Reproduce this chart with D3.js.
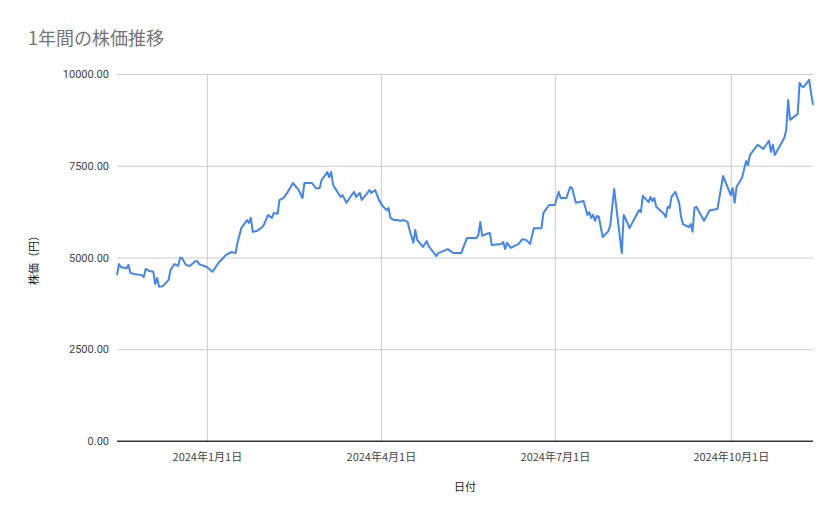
<!DOCTYPE html>
<html><head><meta charset="utf-8">
<script src="https://cdn.jsdelivr.net/npm/d3@7"></script>
<style>body{margin:0;background:#fff;font-family:"Noto Sans CJK JP","Noto Sans",sans-serif;}</style>
</head><body><svg id="chart"></svg>
<script>
const dates = ["2023-11-15","2023-11-16","2023-11-17","2023-11-20","2023-11-21","2023-11-22","2023-11-24","2023-11-28","2023-11-29","2023-11-30","2023-12-02","2023-12-04","2023-12-05","2023-12-06","2023-12-07","2023-12-09","2023-12-12","2023-12-13","2023-12-14","2023-12-15","2023-12-17","2023-12-18","2023-12-19","2023-12-21","2023-12-23","2023-12-26","2023-12-27","2023-12-28","2024-01-01","2024-01-04","2024-01-07","2024-01-09","2024-01-11","2024-01-14","2024-01-16","2024-01-17","2024-01-19","2024-01-22","2024-01-23","2024-01-24","2024-01-25","2024-01-27","2024-01-30","2024-01-31","2024-02-02","2024-02-04","2024-02-05","2024-02-07","2024-02-08","2024-02-10","2024-02-12","2024-02-15","2024-02-18","2024-02-20","2024-02-21","2024-02-25","2024-02-27","2024-02-29","2024-03-01","2024-03-04","2024-03-05","2024-03-06","2024-03-07","2024-03-08","2024-03-11","2024-03-12","2024-03-14","2024-03-16","2024-03-18","2024-03-19","2024-03-21","2024-03-22","2024-03-25","2024-03-26","2024-03-27","2024-03-29","2024-03-31","2024-04-02","2024-04-04","2024-04-05","2024-04-06","2024-04-08","2024-04-10","2024-04-11","2024-04-13","2024-04-15","2024-04-16","2024-04-18","2024-04-19","2024-04-20","2024-04-23","2024-04-24","2024-04-25","2024-04-26","2024-04-30","2024-05-01","2024-05-06","2024-05-09","2024-05-13","2024-05-16","2024-05-21","2024-05-22","2024-05-23","2024-05-24","2024-05-26","2024-05-28","2024-05-29","2024-06-03","2024-06-04","2024-06-05","2024-06-06","2024-06-08","2024-06-12","2024-06-14","2024-06-16","2024-06-18","2024-06-20","2024-06-24","2024-06-25","2024-06-26","2024-06-28","2024-07-01","2024-07-03","2024-07-04","2024-07-07","2024-07-09","2024-07-10","2024-07-12","2024-07-16","2024-07-18","2024-07-19","2024-07-20","2024-07-21","2024-07-22","2024-07-23","2024-07-24","2024-07-26","2024-07-29","2024-07-30","2024-08-01","2024-08-05","2024-08-06","2024-08-08","2024-08-09","2024-08-14","2024-08-15","2024-08-16","2024-08-19","2024-08-20","2024-08-21","2024-08-22","2024-08-23","2024-08-27","2024-08-28","2024-08-29","2024-08-30","2024-08-31","2024-09-02","2024-09-04","2024-09-05","2024-09-06","2024-09-09","2024-09-10","2024-09-11","2024-09-12","2024-09-13","2024-09-17","2024-09-20","2024-09-24","2024-09-27","2024-10-01","2024-10-02","2024-10-03","2024-10-04","2024-10-07","2024-10-09","2024-10-10","2024-10-11","2024-10-15","2024-10-16","2024-10-18","2024-10-21","2024-10-22","2024-10-23","2024-10-24","2024-10-29","2024-10-30","2024-10-31","2024-11-01","2024-11-05","2024-11-06","2024-11-07","2024-11-08","2024-11-11","2024-11-12","2024-11-13"];
const prices = [4520,4820,4740,4710,4800,4580,4550,4520,4470,4690,4630,4610,4280,4440,4200,4220,4390,4660,4740,4820,4770,4990,4990,4800,4770,4900,4900,4820,4740,4610,4850,4960,5070,5150,5120,5400,5800,6020,5940,6080,5700,5720,5830,5910,6160,6080,6210,6190,6570,6620,6760,7030,6840,6620,7030,7030,6890,6890,7110,7330,7190,7330,6980,6890,6650,6700,6490,6650,6790,6650,6760,6570,6760,6840,6760,6840,6570,6400,6290,6350,6080,6020,6020,6000,6020,5970,5750,5400,5750,5480,5290,5370,5450,5310,5040,5120,5230,5120,5120,5530,5530,5610,5970,5590,5640,5670,5340,5370,5420,5230,5400,5260,5370,5500,5480,5370,5800,5800,6210,6290,6430,6430,6790,6620,6620,6920,6890,6490,6540,6160,6240,6080,6160,6000,6130,6110,5560,5720,5890,6870,5120,6160,5940,5800,6290,6240,6680,6510,6650,6540,6620,6380,6190,6100,6380,6350,6650,6790,6490,6100,5910,5830,5910,5700,6350,6380,6000,6290,6320,7220,6700,6890,6490,6920,7190,7630,7520,7790,8070,8040,7960,8180,7880,8070,7790,8260,8480,9290,8750,8910,9760,9670,9640,9840,9480,9160];
const yTicks = [0,2500,5000,7500,10000];
const xTicks = ["2024-01-01","2024-04-01","2024-07-01","2024-10-01"];

const width = 839, height = 519;
const marginTop = 74, marginRight = 26, marginBottom = 78, marginLeft = 117;

const data = dates.map((d, i) => ({date: new Date(d + "T00:00:00"), price: prices[i]}));

const x = d3.scaleTime()
    .domain(d3.extent(data, d => d.date))
    .range([marginLeft, width - marginRight]);
const y = d3.scaleLinear()
    .domain([0, 10000])
    .range([height - marginBottom, marginTop]);

const svg = d3.select("#chart")
    .attr("width", width)
    .attr("height", height)
    .attr("viewBox", [0, 0, width, height]);

// horizontal grid + labels
svg.append("g")
    .attr("transform", `translate(${marginLeft},0)`)
    .call(d3.axisLeft(y).tickValues(yTicks).tickFormat(d3.format(".2f")).tickSize(0).tickPadding(8))
    .call(g => g.select(".domain").remove())
    .call(g => g.selectAll(".tick line").clone()
        .attr("x2", width - marginLeft - marginRight)
        .attr("stroke", d => d === 0 ? "#333" : "#ccc"))
    .call(g => g.selectAll("text").attr("fill", "#444").attr("font-size", 11)
        .attr("font-family", "Roboto, sans-serif"));

// vertical grid + labels
svg.append("g")
    .attr("transform", `translate(0,${height - marginBottom})`)
    .call(d3.axisBottom(x).tickValues(xTicks.map(d => new Date(d + "T00:00:00")))
        .tickFormat(d3.timeFormat("%Y年%-m月%-d日")).tickSize(0).tickPadding(12))
    .call(g => g.select(".domain").remove())
    .call(g => g.selectAll(".tick line").clone()
        .attr("y2", -(height - marginBottom - marginTop))
        .attr("stroke", "#ccc"))
    .call(g => g.selectAll("text").attr("fill", "#444").attr("font-size", 11)
        .attr("font-family", "'Noto Sans CJK JP', sans-serif"));

// redraw zero line atop grid
svg.append("line")
    .attr("x1", marginLeft).attr("x2", width - marginRight)
    .attr("y1", y(0)).attr("y2", y(0))
    .attr("stroke", "#333");

const line = d3.line()
    .x(d => x(d.date))
    .y(d => y(d.price));

svg.append("path")
    .datum(data)
    .attr("fill", "none")
    .attr("stroke", "#4285F4")
    .attr("stroke-width", 2)
    .attr("stroke-linejoin", "round")
    .attr("d", line);

svg.append("text")
    .attr("x", 28).attr("y", 45)
    .attr("font-size", 18).attr("fill", "#757575")
    .text("1年間の株価推移");

svg.append("text")
    .attr("transform", `translate(38,${(marginTop + height - marginBottom) / 2}) rotate(-90)`)
    .attr("text-anchor", "middle")
    .attr("font-size", 11).attr("fill", "#222")
    .text("株価（円）");

svg.append("text")
    .attr("x", (marginLeft + width - marginRight) / 2).attr("y", 491)
    .attr("text-anchor", "middle")
    .attr("font-size", 11).attr("fill", "#222")
    .text("日付");
</script>
</body></html>
